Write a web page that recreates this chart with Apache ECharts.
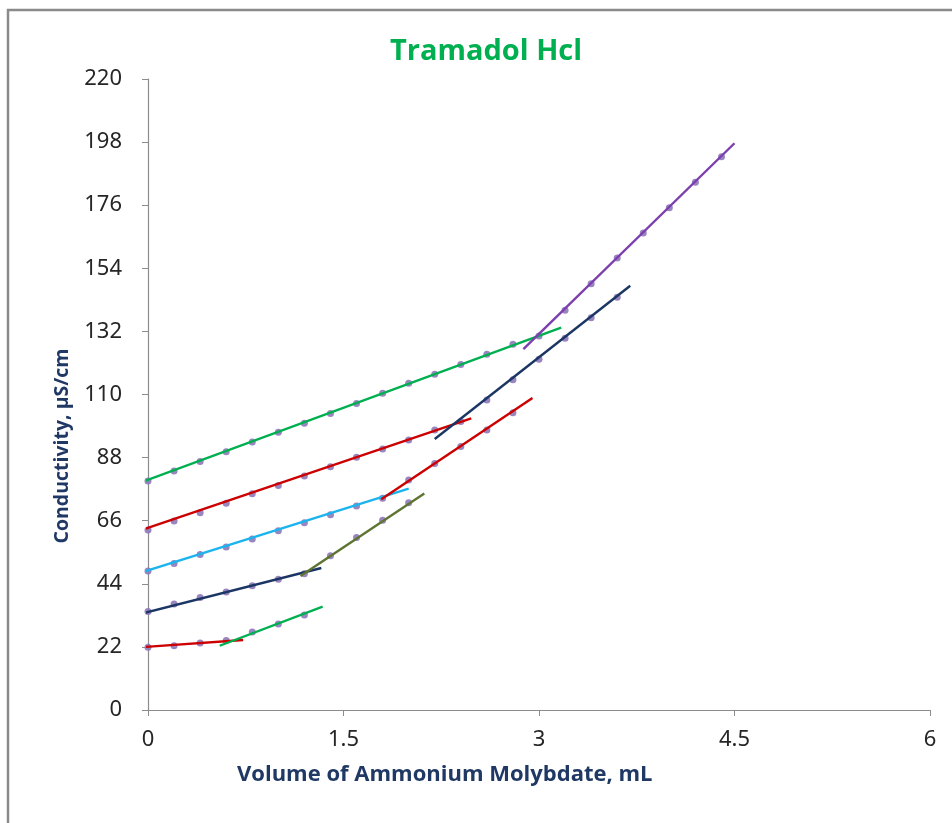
<!DOCTYPE html>
<html>
<head>
<meta charset="utf-8">
<script src="https://cdn.jsdelivr.net/npm/echarts@6/dist/echarts.min.js"></script>
<style>
  html, body { margin: 0; padding: 0; background: #fff; }
  #chart { width: 952px; height: 823px; }
</style>
</head>
<body>
<div id="chart"></div>
<script>
// measured points, grouped by the segment each trendline was fitted to
var xA1 = [0, 0.2, 0.4, 0.6];
var yA1 = [21.9, 22.4, 23.4, 24.2];
var xA2 = [0.8, 1.0, 1.2];
var yA2 = [27.2, 30.0, 33.1];

var xB1 = [0, 0.2, 0.4, 0.6, 0.8, 1.0, 1.2];
var yB1 = [34.3, 37.0, 39.2, 41.1, 43.3, 45.6, 47.5];
var xB2 = [1.4, 1.6, 1.8, 2.0];
var yB2 = [53.8, 60.1, 66.2, 72.3];

var xC1 = [0, 0.2, 0.4, 0.6, 0.8, 1.0, 1.2, 1.4, 1.6, 1.8];
var yC1 = [48.5, 51.1, 54.2, 56.8, 59.6, 62.5, 65.3, 68.1, 71.1, 73.8];
var xC2 = [2.0, 2.2, 2.4, 2.6, 2.8];
var yC2 = [80.2, 85.9, 91.9, 97.6, 103.6];

var xD1 = [0, 0.2, 0.4, 0.6, 0.8, 1.0, 1.2, 1.4, 1.6, 1.8, 2.0, 2.2, 2.4];
var yD1 = [62.8, 65.9, 68.8, 72.1, 75.4, 78.3, 81.6, 84.8, 88.1, 91.0, 94.1, 97.6, 100.6];
var xD2 = [2.6, 2.8, 3.0, 3.2, 3.4, 3.6];
var yD2 = [108.1, 115.1, 122.3, 129.6, 136.8, 143.9];

var xE1 = [0, 0.2, 0.4, 0.6, 0.8, 1.0, 1.2, 1.4, 1.6, 1.8, 2.0, 2.2, 2.4, 2.6, 2.8, 3.0];
var yE1 = [79.8, 83.3, 86.6, 90.0, 93.4, 96.8, 100.0, 103.4, 106.9, 110.4, 113.9, 117.1, 120.5, 124.0, 127.5, 130.4];
var xE2 = [3.2, 3.4, 3.6, 3.8, 4.0, 4.2, 4.4];
var yE2 = [139.4, 148.6, 157.6, 166.3, 175.1, 184.0, 192.9];

// trendline end points [x, y] as drawn
var trendA1 = [[-0.05, 21.9], [0.73, 24.4]];
var trendA2 = [[0.55, 22.4], [1.34, 36.0]];
var trendB1 = [[-0.11, 32.9], [1.33, 49.5]];
var trendB2 = [[1.17, 46.7], [2.12, 75.5]];
var trendC1 = [[-0.08, 47.5], [2.0, 77.2]];
var trendC2 = [[1.79, 73.5], [2.95, 108.8]];
var trendD1 = [[-0.11, 61.8], [2.48, 101.7]];
var trendD2 = [[2.2, 94.5], [3.70, 147.9]];
var trendE1 = [[-0.09, 78.8], [3.17, 133.3]];
var trendE2 = [[2.88, 125.8], [4.5, 197.6]];

var GREEN = "#00B050", RED = "#CC0000", NAVY = "#1B3664",
    BLUE = "#1CB4EE", OLIVE = "#5E7532", PURPLE = "#7B3FAE";

function pairs(xs, ys) {
  return xs.map(function (x, i) { return [x, ys[i]]; });
}

function dots(xs, ys) {
  return {
    type: "scatter",
    data: pairs(xs, ys),
    symbol: "circle",
    symbolSize: 7,
    itemStyle: { color: "#8E78B8", opacity: 0.9 },
    z: 2,
    silent: true
  };
}

function trend(pts, color) {
  return {
    type: "line",
    data: pts,
    showSymbol: false,
    symbol: "none",
    clip: false,
    lineStyle: { color: color, width: 2.4 },
    z: 3,
    silent: true
  };
}

var chart = echarts.init(document.getElementById("chart"), null, { renderer: "canvas" });

var option = {
  animation: false,
  backgroundColor: "#fff",
  title: {
    text: "Tramadol Hcl",
    left: 385,
    top: 32,
    textStyle: {
      fontFamily: "Open Sans",
      fontSize: 29,
      fontWeight: "bold",
      color: "#00B050"
    }
  },
  grid: { left: 148, right: 22, top: 79, bottom: 113 },
  xAxis: {
    type: "value",
    min: 0,
    max: 6,
    interval: 1.5,
    splitLine: { show: false },
    axisLine: { lineStyle: { color: "#8C8C8C", width: 1.2 } },
    axisTick: { show: true, inside: false, length: 6, lineStyle: { color: "#8C8C8C" } },
    axisLabel: {
      margin: 19,
      fontFamily: "Liberation Sans Narrow, Noto Sans, sans-serif",
      fontSize: 22,
      color: "#262626"
    }
  },
  yAxis: {
    type: "value",
    min: 0,
    max: 220,
    interval: 22,
    splitLine: { show: false },
    axisLine: { show: true, lineStyle: { color: "#8C8C8C", width: 1.2 } },
    axisTick: { show: true, inside: false, length: 6, lineStyle: { color: "#8C8C8C" } },
    axisLabel: {
      margin: 26,
      fontFamily: "Liberation Sans Narrow, Noto Sans, sans-serif",
      fontSize: 22,
      color: "#262626"
    }
  },
  graphic: [
    {
      type: "polyline",
      shape: { points: [[8, 823], [8, 10], [952, 10]] },
      style: { stroke: "#8A8A8A", lineWidth: 2.5, fill: null },
      silent: true
    },
    {
      type: "text",
      left: 237,
      top: 764,
      style: {
        text: "Volume of Ammonium Molybdate, mL",
        font: "bold 22px 'Open Sans'",
        fill: "#1F3864"
      }
    },
    {
      type: "text",
      x: 62,
      y: 446,
      rotation: Math.PI / 2,
      style: {
        text: "Conductivity, µS/cm",
        font: "bold 19.5px 'Open Sans'",
        fill: "#1F3864",
        align: "center",
        verticalAlign: "middle"
      }
    }
  ],
  series: [
    dots(xA1, yA1), dots(xA2, yA2),
    dots(xB1, yB1), dots(xB2, yB2),
    dots(xC1, yC1), dots(xC2, yC2),
    dots(xD1, yD1), dots(xD2, yD2),
    dots(xE1, yE1), dots(xE2, yE2),
    trend(trendA1, RED), trend(trendA2, GREEN),
    trend(trendB1, NAVY), trend(trendB2, OLIVE),
    trend(trendC1, BLUE), trend(trendC2, RED),
    trend(trendD1, RED), trend(trendD2, NAVY),
    trend(trendE1, GREEN), trend(trendE2, PURPLE)
  ]
};

chart.setOption(option);
</script>
</body>
</html>
